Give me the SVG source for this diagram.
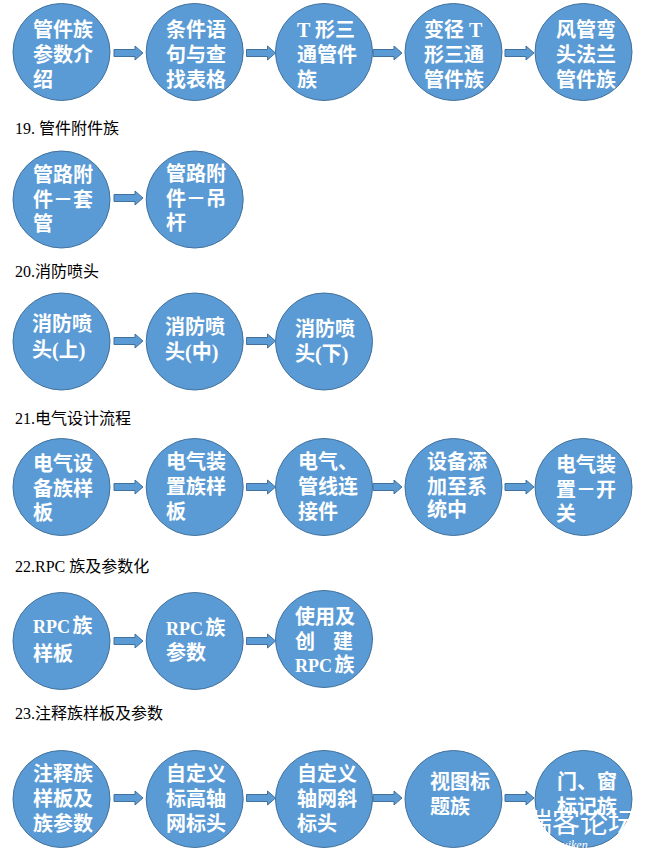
<svg xmlns="http://www.w3.org/2000/svg" xmlns:xlink="http://www.w3.org/1999/xlink" width="646" height="858" viewBox="0 0 646 858">
<defs>
<style>
.c{fill:#5B9BD5;stroke:#41719C;stroke-width:1}
.a{fill:#5B9BD5;stroke:#41719C;stroke-width:1}
.t{fill:#FFFFFF;font-family:"Liberation Serif","Noto Sans CJK SC",serif;font-weight:bold;font-size:20px}
.r{font-size:18px;word-spacing:-2px}
.h{fill:#000000;font-family:"Liberation Serif","Noto Sans CJK SC",serif;font-size:16px}
.w{fill:#FFFFFF;font-family:"Noto Sans CJK SC",sans-serif;font-size:28px}
.ws{fill:#FFFFFF;font-family:"Liberation Serif",serif;font-style:italic;font-size:12px}
</style>
<path id="arr" d="M0,-3.5 H21 V-7 L29,0 L21,7 V3.5 H0 Z"/>
</defs>
<rect width="646" height="858" fill="#FFFFFF"/>

<g id="headers">
<text class="h" x="15" y="134">19. 管件附件族</text>
<text class="h" x="15" y="277">20.消防喷头</text>
<text class="h" x="15" y="424">21.电气设计流程</text>
<text class="h" x="15" y="572">22.RPC 族及参数化</text>
<text class="h" x="15" y="719">23.注释族样板及参数</text>
</g>

<g id="connectors">
<use xlink:href="#arr" class="a" x="114" y="53"/>
<use xlink:href="#arr" class="a" x="246.5" y="53"/>
<use xlink:href="#arr" class="a" x="373" y="53"/>
<use xlink:href="#arr" class="a" x="505" y="53"/>
<use xlink:href="#arr" class="a" x="114" y="198"/>
<use xlink:href="#arr" class="a" x="114" y="341"/>
<use xlink:href="#arr" class="a" x="246.5" y="341"/>
<use xlink:href="#arr" class="a" x="114" y="487"/>
<use xlink:href="#arr" class="a" x="246.5" y="487"/>
<use xlink:href="#arr" class="a" x="373" y="487"/>
<use xlink:href="#arr" class="a" x="505" y="487"/>
<use xlink:href="#arr" class="a" x="114" y="641"/>
<use xlink:href="#arr" class="a" x="246.5" y="641"/>
<use xlink:href="#arr" class="a" x="114" y="798"/>
<use xlink:href="#arr" class="a" x="246.5" y="798"/>
<use xlink:href="#arr" class="a" x="373" y="798"/>
<use xlink:href="#arr" class="a" x="505" y="798"/>
</g>

<!-- Row 1 -->
<g id="n1_1"><circle class="c" cx="61.5" cy="52" r="48.5"/><text class="t"><tspan x="33" y="37">管件族</tspan><tspan x="33" y="62">参数介</tspan><tspan x="33" y="87">绍</tspan></text></g>
<g id="n1_2"><circle class="c" cx="194.7" cy="52" r="48.5"/><text class="t"><tspan x="166" y="37">条件语</tspan><tspan x="166" y="62">句与查</tspan><tspan x="166" y="87">找表格</tspan></text></g>
<g id="n1_3"><circle class="c" cx="324" cy="52" r="48.5"/><text class="t"><tspan x="297" y="37">T 形三</tspan><tspan x="297" y="62">通管件</tspan><tspan x="297" y="87">族</tspan></text></g>
<g id="n1_4"><circle class="c" cx="453.5" cy="52" r="48.5"/><text class="t"><tspan x="424" y="37">变径 T</tspan><tspan x="424" y="62">形三通</tspan><tspan x="424" y="87">管件族</tspan></text></g>
<g id="n1_5"><circle class="c" cx="583.5" cy="52" r="48.5"/><text class="t"><tspan x="556" y="37">风管弯</tspan><tspan x="556" y="62">头法兰</tspan><tspan x="556" y="87">管件族</tspan></text></g>

<!-- 19 -->
<g id="n19_1"><circle class="c" cx="61.5" cy="199.5" r="48.5"/><text class="t"><tspan x="33" y="182">管路附</tspan><tspan x="33" y="207">件－套</tspan><tspan x="33" y="231">管</tspan></text></g>
<g id="n19_2"><circle class="c" cx="194.7" cy="199.5" r="48.5"/><text class="t"><tspan x="166" y="181">管路附</tspan><tspan x="166" y="206">件－吊</tspan><tspan x="166" y="230">杆</tspan></text></g>

<!-- 20 -->
<g id="n20_1"><circle class="c" cx="61.5" cy="341.5" r="48.5"/><text class="t"><tspan x="32" y="331">消防喷</tspan><tspan x="32" y="357">头(上)</tspan></text></g>
<g id="n20_2"><circle class="c" cx="194.7" cy="341.5" r="48.5"/><text class="t"><tspan x="165" y="334">消防喷</tspan><tspan x="165" y="359">头(中)</tspan></text></g>
<g id="n20_3"><circle class="c" cx="324" cy="341.5" r="48.5"/><text class="t"><tspan x="295" y="336">消防喷</tspan><tspan x="295" y="361">头(下)</tspan></text></g>

<!-- 21 -->
<g id="n21_1"><circle class="c" cx="61.5" cy="487" r="48.5"/><text class="t"><tspan x="33" y="471">电气设</tspan><tspan x="33" y="496">备族样</tspan><tspan x="33" y="520">板</tspan></text></g>
<g id="n21_2"><circle class="c" cx="194.7" cy="487" r="48.5"/><text class="t"><tspan x="166" y="469">电气装</tspan><tspan x="166" y="494">置族样</tspan><tspan x="166" y="519">板</tspan></text></g>
<g id="n21_3"><circle class="c" cx="324" cy="487" r="48.5"/><text class="t"><tspan x="298" y="469">电气、</tspan><tspan x="298" y="494">管线连</tspan><tspan x="298" y="519">接件</tspan></text></g>
<g id="n21_4"><circle class="c" cx="453.5" cy="487" r="48.5"/><text class="t"><tspan x="427" y="469">设备添</tspan><tspan x="427" y="494">加至系</tspan><tspan x="427" y="517">统中</tspan></text></g>
<g id="n21_5"><circle class="c" cx="583.5" cy="487" r="48.5"/><text class="t"><tspan x="556" y="472">电气装</tspan><tspan x="556" y="497">置－开</tspan><tspan x="556" y="521">关</tspan></text></g>

<!-- 22 -->
<g id="n22_1"><circle class="c" cx="61.5" cy="641" r="48.5"/><text class="t"><tspan x="33" y="633"><tspan class="r">RPC </tspan>族</tspan><tspan x="33" y="661">样板</tspan></text></g>
<g id="n22_2"><circle class="c" cx="194.7" cy="641" r="48.5"/><text class="t"><tspan x="166" y="635"><tspan class="r">RPC </tspan>族</tspan><tspan x="166" y="660">参数</tspan></text></g>
<g id="n22_3"><circle class="c" cx="324" cy="639" r="48.5"/><text class="t"><tspan x="295" y="624">使用及</tspan><tspan x="295" y="649">创</tspan><tspan x="333" y="649">建</tspan><tspan x="295" y="672"><tspan class="r">RPC </tspan>族</tspan></text></g>

<!-- 23 -->
<g id="n23_1"><circle class="c" cx="61.5" cy="799" r="48.5"/><text class="t"><tspan x="33" y="781">注释族</tspan><tspan x="33" y="806">样板及</tspan><tspan x="33" y="831">族参数</tspan></text></g>
<g id="n23_2"><circle class="c" cx="194.7" cy="799" r="48.5"/><text class="t"><tspan x="166" y="781">自定义</tspan><tspan x="166" y="806">标高轴</tspan><tspan x="166" y="831">网标头</tspan></text></g>
<g id="n23_3"><circle class="c" cx="324" cy="799" r="48.5"/><text class="t"><tspan x="297" y="781">自定义</tspan><tspan x="297" y="806">轴网斜</tspan><tspan x="297" y="831">标头</tspan></text></g>
<g id="n23_4"><circle class="c" cx="453.5" cy="799" r="48.5"/><text class="t"><tspan x="430" y="789">视图标</tspan><tspan x="430" y="814">题族</tspan></text></g>
<g id="n23_5"><circle class="c" cx="583.5" cy="799" r="48.5"/><text class="t"><tspan x="557" y="789">门、窗</tspan><tspan x="557" y="814">标记族</tspan></text></g>

<g id="watermark">
<text class="w" x="524" y="833">瑞客论坛</text>
<text class="ws" x="557" y="849">ruiken</text>
</g>
</svg>
